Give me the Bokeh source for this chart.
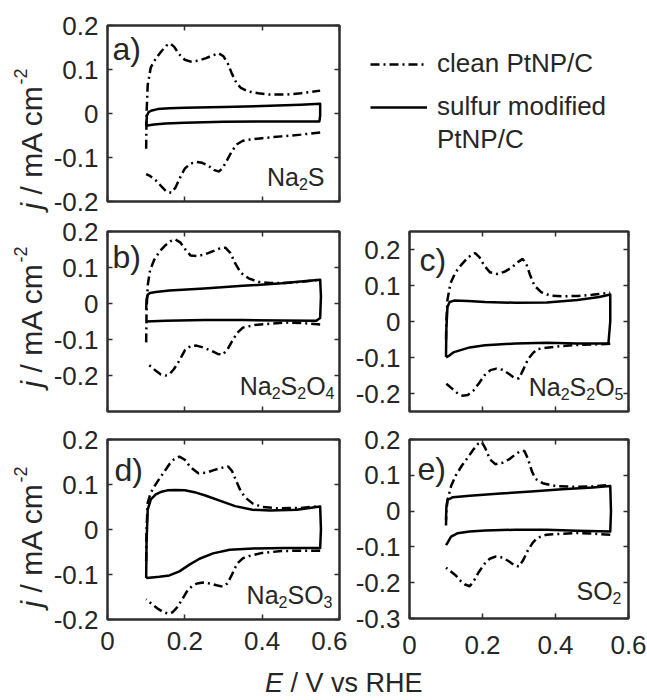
import math
from bokeh.plotting import figure
from bokeh.models import (Range1d, FixedTicker, CustomJSTickFormatter, LinearAxis,
                          Label, Legend, LegendItem)
from bokeh.layouts import column, row
from bokeh.embed import file_html
from bokeh.resources import INLINE

# ---------------- data ----------------
E_ticks = [0, 0.2, 0.4, 0.6]
j_ticks = [-0.2, -0.1, 0, 0.1, 0.2]
j_ticks_e = [-0.3, -0.2, -0.1, 0, 0.1, 0.2]
panel_tags = ["a)", "b)", "c)", "d)", "e)"]
species = [
    [("Na", 0), ("2", 1), ("S", 0)],
    [("Na", 0), ("2", 1), ("S", 0), ("2", 1), ("O", 0), ("4", 1)],
    [("Na", 0), ("2", 1), ("S", 0), ("2", 1), ("O", 0), ("5", 1)],
    [("Na", 0), ("2", 1), ("SO", 0), ("3", 1)],
    [("SO", 0), ("2", 1)],
]
legend_labels = ["clean PtNP/C", "sulfur modified", "PtNP/C"]

# panel a  (Na2S)
a_clean_up_E = [0.100, 0.101, 0.104, 0.112, 0.125, 0.140, 0.152, 0.162, 0.172, 0.185, 0.200, 0.215, 0.235, 0.255,
                0.272, 0.287, 0.300, 0.312, 0.322, 0.333, 0.345, 0.365, 0.390, 0.420, 0.460, 0.500, 0.550]
a_clean_up_j = [-0.080, 0.000, 0.065, 0.105, 0.125, 0.142, 0.154, 0.159, 0.152, 0.135, 0.122, 0.118, 0.120, 0.126,
                0.132, 0.137, 0.130, 0.112, 0.090, 0.070, 0.058, 0.050, 0.046, 0.043, 0.043, 0.046, 0.052]
a_clean_dn_E = [0.550, 0.500, 0.450, 0.400, 0.370, 0.350, 0.335, 0.322, 0.310, 0.298, 0.288, 0.275, 0.260, 0.245,
                0.230, 0.215, 0.200, 0.188, 0.176, 0.165, 0.152, 0.140, 0.125, 0.110, 0.100]
a_clean_dn_j = [-0.043, -0.048, -0.052, -0.056, -0.059, -0.062, -0.070, -0.085, -0.105, -0.124, -0.132, -0.128, -0.118,
                -0.112, -0.110, -0.114, -0.125, -0.145, -0.168, -0.180, -0.177, -0.166, -0.152, -0.142, -0.138]
a_mod_E = [0.100, 0.102, 0.106, 0.115, 0.130, 0.160, 0.200, 0.300, 0.400, 0.500, 0.550,
           0.550, 0.548, 0.500, 0.400, 0.300, 0.200, 0.150, 0.120, 0.100]
a_mod_j = [-0.028, -0.005, 0.003, 0.007, 0.010, 0.012, 0.013, 0.015, 0.017, 0.020, 0.022,
           -0.005, -0.018, -0.018, -0.018, -0.019, -0.021, -0.023, -0.025, -0.028]

# panel b  (Na2S2O4)
b_clean_up_E = [0.100, 0.101, 0.104, 0.110, 0.121, 0.135, 0.150, 0.163, 0.175, 0.188, 0.200, 0.215, 0.235, 0.255,
                0.275, 0.292, 0.305, 0.318, 0.330, 0.345, 0.365, 0.390, 0.420, 0.460, 0.500, 0.550]
b_clean_up_j = [-0.108, -0.020, 0.050, 0.092, 0.122, 0.145, 0.162, 0.173, 0.178, 0.170, 0.152, 0.133, 0.132, 0.138,
                0.146, 0.154, 0.155, 0.140, 0.112, 0.085, 0.070, 0.060, 0.057, 0.057, 0.060, 0.066]
b_clean_dn_E = [0.550, 0.500, 0.460, 0.420, 0.380, 0.350, 0.335, 0.322, 0.310, 0.298, 0.285, 0.270, 0.250, 0.230,
                0.215, 0.200, 0.185, 0.172, 0.160, 0.150, 0.138, 0.125, 0.112, 0.100]
b_clean_dn_j = [-0.058, -0.054, -0.053, -0.056, -0.060, -0.067, -0.082, -0.105, -0.128, -0.142, -0.140, -0.132,
                -0.123, -0.117, -0.118, -0.130, -0.160, -0.182, -0.197, -0.200, -0.197, -0.187, -0.175, -0.165]
b_mod_E = [0.100, 0.101, 0.104, 0.110, 0.125, 0.160, 0.250, 0.350, 0.450, 0.550,
           0.552, 0.550, 0.540, 0.450, 0.350, 0.250, 0.150, 0.100]
b_mod_j = [-0.017, 0.010, 0.024, 0.029, 0.032, 0.036, 0.042, 0.049, 0.056, 0.066,
           0.020, -0.040, -0.048, -0.047, -0.046, -0.046, -0.048, -0.050]

# panel c  (Na2S2O5)
c_clean_up_E = [0.100, 0.101, 0.104, 0.112, 0.125, 0.140, 0.155, 0.168, 0.180, 0.192, 0.205, 0.220, 0.240, 0.260,
                0.280, 0.297, 0.310, 0.320, 0.330, 0.342, 0.360, 0.385, 0.420, 0.460, 0.500, 0.550]
c_clean_up_j = [-0.050, 0.000, 0.060, 0.105, 0.135, 0.155, 0.172, 0.184, 0.190, 0.178, 0.155, 0.137, 0.132, 0.138,
                0.150, 0.165, 0.174, 0.160, 0.130, 0.100, 0.082, 0.072, 0.070, 0.071, 0.074, 0.080]
c_clean_dn_E = [0.550, 0.500, 0.460, 0.420, 0.375, 0.350, 0.338, 0.325, 0.312, 0.300, 0.288, 0.272, 0.255, 0.238,
                0.222, 0.205, 0.190, 0.175, 0.160, 0.145, 0.130, 0.115, 0.100]
c_clean_dn_j = [-0.062, -0.064, -0.065, -0.068, -0.073, -0.077, -0.088, -0.104, -0.133, -0.158, -0.157, -0.145,
                -0.134, -0.131, -0.135, -0.150, -0.172, -0.192, -0.204, -0.206, -0.198, -0.185, -0.172]
c_mod_E = [0.100, 0.101, 0.104, 0.110, 0.122, 0.160, 0.207, 0.291, 0.376, 0.460, 0.520, 0.550,
           0.550, 0.545, 0.460, 0.376, 0.291, 0.207, 0.165, 0.122, 0.110, 0.100]
c_mod_j = [-0.099, -0.020, 0.040, 0.054, 0.058, 0.057, 0.054, 0.052, 0.053, 0.060, 0.068, 0.075,
           0.000, -0.061, -0.061, -0.059, -0.061, -0.066, -0.072, -0.085, -0.094, -0.100]

# panel d  (Na2SO3)
d_clean_up_E = [0.100, 0.101, 0.104, 0.112, 0.123, 0.135, 0.148, 0.160, 0.172, 0.186, 0.200, 0.215, 0.235, 0.255,
                0.275, 0.295, 0.312, 0.322, 0.332, 0.342, 0.355, 0.375, 0.400, 0.440, 0.500, 0.550]
d_clean_up_j = [-0.070, 0.000, 0.060, 0.082, 0.098, 0.114, 0.130, 0.145, 0.156, 0.162, 0.155, 0.138, 0.125, 0.126,
                0.132, 0.137, 0.140, 0.130, 0.110, 0.090, 0.072, 0.058, 0.050, 0.047, 0.048, 0.052]
d_clean_dn_E = [0.550, 0.500, 0.450, 0.400, 0.370, 0.350, 0.335, 0.322, 0.310, 0.298, 0.282, 0.265, 0.247, 0.232,
                0.218, 0.205, 0.192, 0.180, 0.168, 0.158, 0.145, 0.132, 0.118, 0.100]
d_clean_dn_j = [-0.047, -0.047, -0.048, -0.052, -0.058, -0.064, -0.076, -0.100, -0.120, -0.127, -0.124, -0.120,
                -0.118, -0.120, -0.126, -0.138, -0.157, -0.173, -0.184, -0.187, -0.184, -0.177, -0.168, -0.155]
d_mod_E = [0.100, 0.101, 0.104, 0.112, 0.125, 0.140, 0.155, 0.175, 0.200, 0.225, 0.255, 0.290, 0.330, 0.375, 0.420,
           0.490, 0.550, 0.552, 0.550, 0.460, 0.377, 0.316, 0.273, 0.238, 0.212, 0.186, 0.160, 0.134, 0.108, 0.100]
d_mod_j = [-0.108, -0.030, 0.044, 0.067, 0.078, 0.084, 0.087, 0.088, 0.087, 0.083, 0.075, 0.064, 0.052, 0.044, 0.042,
           0.044, 0.051, 0.000, -0.041, -0.041, -0.042, -0.045, -0.053, -0.065, -0.078, -0.093, -0.102, -0.105,
           -0.107, -0.108]

# panel e  (SO2)
e_clean_up_E = [0.100, 0.101, 0.104, 0.114, 0.127, 0.144, 0.160, 0.175, 0.188, 0.198, 0.208, 0.220, 0.235, 0.255,
                0.275, 0.292, 0.305, 0.315, 0.325, 0.335, 0.345, 0.365, 0.400, 0.450, 0.500, 0.550]
e_clean_up_j = [-0.040, 0.000, 0.030, 0.070, 0.100, 0.128, 0.150, 0.172, 0.188, 0.193, 0.175, 0.145, 0.131, 0.135,
                0.146, 0.160, 0.168, 0.168, 0.145, 0.112, 0.090, 0.078, 0.070, 0.068, 0.069, 0.073]
e_clean_dn_E = [0.550, 0.500, 0.460, 0.420, 0.375, 0.350, 0.338, 0.325, 0.312, 0.300, 0.288, 0.272, 0.255, 0.235,
                0.220, 0.205, 0.190, 0.178, 0.165, 0.152, 0.140, 0.127, 0.115, 0.100]
e_clean_dn_j = [-0.066, -0.063, -0.061, -0.063, -0.066, -0.075, -0.088, -0.108, -0.136, -0.155, -0.152, -0.140,
                -0.130, -0.127, -0.133, -0.148, -0.170, -0.192, -0.210, -0.205, -0.195, -0.180, -0.170, -0.158]
e_mod_E = [0.100, 0.101, 0.104, 0.119, 0.165, 0.249, 0.333, 0.418, 0.502, 0.550,
           0.552, 0.550, 0.460, 0.375, 0.291, 0.207, 0.165, 0.131, 0.114, 0.104, 0.100]
e_mod_j = [-0.024, 0.010, 0.031, 0.039, 0.043, 0.049, 0.055, 0.061, 0.066, 0.070,
           0.000, -0.057, -0.055, -0.052, -0.052, -0.054, -0.057, -0.062, -0.071, -0.089, -0.095]

# ---------------- styling ----------------
FONT = "Liberation Sans"
INK = "#262626"
EDGE = "#2e2e2e"
ASC = 0.905
ADV = {"N": .722, "a": .556, "S": .667, "O": .778, "2": .556, "3": .556, "4": .556, "5": .556}
CLEAN = dict(line_color="black", line_width=2.5, line_dash="9 4 2 4")
MOD = dict(line_color="black", line_width=2.5, line_join="round")


def make_axis(ticks, labeled, standoff=8):
    ax = LinearAxis(ticker=FixedTicker(ticks=ticks, minor_ticks=[]),
                    axis_line_color=None, major_tick_in=5, major_tick_out=0,
                    minor_tick_in=0, minor_tick_out=0,
                    major_tick_line_color=EDGE, major_tick_line_width=1.5)
    if labeled:
        ax.formatter = CustomJSTickFormatter(code="return (Math.round(tick * 10) / 10).toString();")
        ax.major_label_text_font = FONT
        ax.major_label_text_font_size = "26px"
        ax.major_label_text_color = INK
        ax.major_label_standoff = standoff
    else:
        ax.formatter = CustomJSTickFormatter(code="return '';")
        ax.major_label_text_font_size = "0px"
        ax.major_label_standoff = 0
    return ax


def make_panel(yr, yt, fw, fh, bl, br, bt, bb, xlab=False, xstand=8):
    p = figure(frame_width=fw, frame_height=fh, min_border_left=bl, min_border_right=br,
               min_border_top=bt, min_border_bottom=bb, x_range=Range1d(0, 0.6),
               y_range=Range1d(yr[0], yr[1]), x_axis_location=None, y_axis_location=None,
               output_backend="svg", toolbar_location=None)
    p.xgrid.grid_line_color = None
    p.ygrid.grid_line_color = None
    p.outline_line_color = EDGE
    p.outline_line_width = 2.5
    p.add_layout(make_axis(yt, True, 9), "left")
    p.add_layout(make_axis(yt, False), "right")
    p.add_layout(make_axis(E_ticks, xlab, xstand), "below")
    p.add_layout(make_axis(E_ticks, False), "above")
    return p


def blank_fig(w, h, top=0, xr=(0, 1)):
    f = figure(frame_width=w, frame_height=h, min_border=0, min_border_top=top,
               x_range=Range1d(*xr), y_range=Range1d(-1, 1),
               x_axis_location=None, y_axis_location=None, output_backend="svg", toolbar_location=None)
    f.xgrid.grid_line_color = None
    f.ygrid.grid_line_color = None
    f.outline_line_color = None
    return f


def draw(p, upE, upj, dnE, dnj, mE, mj):
    p.line(upE, upj, **CLEAN)
    p.line(dnE, dnj, **CLEAN)
    p.line(mE, mj, **MOD)


def tag(p, text, fh, dx, dy):
    p.add_layout(Label(x=dx, y=fh - dy, x_units="screen", y_units="screen", text=text,
                       text_font=FONT, text_font_size="32px", text_color=INK,
                       text_align="left", text_baseline="top"))


def formula(p, segs, fw, gap, base):
    # base: height of the text baseline above the bottom of the frame
    x = fw - gap
    for s, sub in reversed(segs):
        size = 16 if sub else 25
        b = base - (7 if sub else 0)
        p.add_layout(Label(x=x, y=b + ASC * size, x_units="screen", y_units="screen",
                           text=s, text_font=FONT, text_font_size=f"{size}px", text_color=INK,
                           text_align="right", text_baseline="top"))
        x -= sum(ADV[c] for c in s) * size


def ylabel_fig(h, y0, xb=42, F=30):
    # xb: screen x of the (rotated) baseline, y0: start of the text above the bottom
    f = blank_fig(50, h)
    common = dict(x_units="screen", y_units="screen", angle=math.pi / 2, text_font=FONT,
                  text_color=INK, text_align="left", text_baseline="top")
    f.add_layout(Label(x=xb - ASC * F, y=y0, text="j", text_font_size=f"{F}px",
                       text_font_style="italic", **common))
    y1 = y0 + (0.222 + 0.278) * F
    f.add_layout(Label(x=xb - ASC * F, y=y1, text="/ mA cm", text_font_size=f"{F}px", **common))
    y2 = y1 + 3.667 * F
    f.add_layout(Label(x=xb - 12 - ASC * 18, y=y2, text="-2", text_font_size="18px", **common))
    return f


# ---------------- panels ----------------
# row 1 : 214 px tall
yA = ylabel_fig(214, 30)
pA = make_panel((-0.2, 0.2), j_ticks, 232, 176, 55, 8, 17, 21)
draw(pA, a_clean_up_E, a_clean_up_j, a_clean_dn_E, a_clean_dn_j, a_mod_E, a_mod_j)
tag(pA, panel_tags[0], 176, 5, 5)
formula(pA, species[0], 232, 15, 16)

# legend strip: the panel-a series drawn outside its visible x window, used only as legend keys
pL = blank_fig(302, 189, top=25, xr=(10, 11))
lr1 = pL.line(a_clean_up_E, a_clean_up_j, **CLEAN)
lr2 = pL.line(a_mod_E, a_mod_j, **MOD)
lr3 = pL.line(a_mod_E, a_mod_j, line_color="black", line_alpha=0, line_width=2.5)
LEG = dict(orientation="vertical", border_line_color=None, background_fill_alpha=0,
           label_text_font=FONT, label_text_font_size="26px", label_text_color=INK,
           glyph_width=57, glyph_height=30, label_height=30, label_standoff=10, padding=0)
leg1 = Legend(items=[LegendItem(label=legend_labels[0], renderers=[lr1])],
              location="top_left", margin=23, spacing=0, **LEG)
leg2 = Legend(items=[LegendItem(label=legend_labels[1], renderers=[lr2]),
                     LegendItem(label=legend_labels[2], renderers=[lr3])],
              location=(23, 59), margin=0, spacing=2, **LEG)
pL.add_layout(leg1)
pL.add_layout(leg2)

# row 2 : 211 px tall
yB = ylabel_fig(211, 55)
pB = make_panel((-0.3, 0.2), j_ticks, 232, 180, 55, 8, 17, 14)
draw(pB, b_clean_up_E, b_clean_up_j, b_clean_dn_E, b_clean_dn_j, b_mod_E, b_mod_j)
tag(pB, panel_tags[1], 180, 5, 7)
formula(pB, species[1], 232, 5, 17)

pC = make_panel((-0.25, 0.25), j_ticks, 219, 180, 62, 21, 13, 18)
draw(pC, c_clean_up_E, c_clean_up_j, c_clean_dn_E, c_clean_dn_j, c_mod_E, c_mod_j)
tag(pC, panel_tags[2], 180, 10, 10)
formula(pC, species[2], 219, 5, 16)

# row 3 : 237 px tall
yD = ylabel_fig(237, 69)
pD = make_panel((-0.2, 0.2), j_ticks, 232, 180, 55, 8, 14, 43, xlab=True, xstand=12)
draw(pD, d_clean_up_E, d_clean_up_j, d_clean_dn_E, d_clean_dn_j, d_mod_E, d_mod_j)
tag(pD, panel_tags[3], 180, 7, 12)
formula(pD, species[3], 232, 7, 16)

pE = make_panel((-0.3, 0.2), j_ticks_e, 219, 179, 62, 21, 10, 48, xlab=True, xstand=17)
draw(pE, e_clean_up_E, e_clean_up_j, e_clean_dn_E, e_clean_dn_j, e_mod_E, e_mod_j)
tag(pE, panel_tags[4], 179, 8, 11)
formula(pE, species[4], 219, 7, 19)

# x-axis title strip : 37 px tall
pX = blank_fig(647, 37)
F = 27
X0 = 346 - 6.035 * F / 2
YT = 7 + ASC * F
pX.add_layout(Label(x=X0, y=YT, x_units="screen", y_units="screen", text="E", text_font=FONT,
                    text_font_size=f"{F}px", text_font_style="italic", text_color=INK,
                    text_align="left", text_baseline="top"))
pX.add_layout(Label(x=X0 + (0.667 + 0.278) * F, y=YT, x_units="screen", y_units="screen", text="/ V vs RHE",
                    text_font=FONT, text_font_size=f"{F}px", text_color=INK,
                    text_align="left", text_baseline="top"))

layout = column(row(yA, pA, pL), row(yB, pB, pC), row(yD, pD, pE), pX)
open("out.html", "w").write(file_html(layout, INLINE, "CV panels"))
